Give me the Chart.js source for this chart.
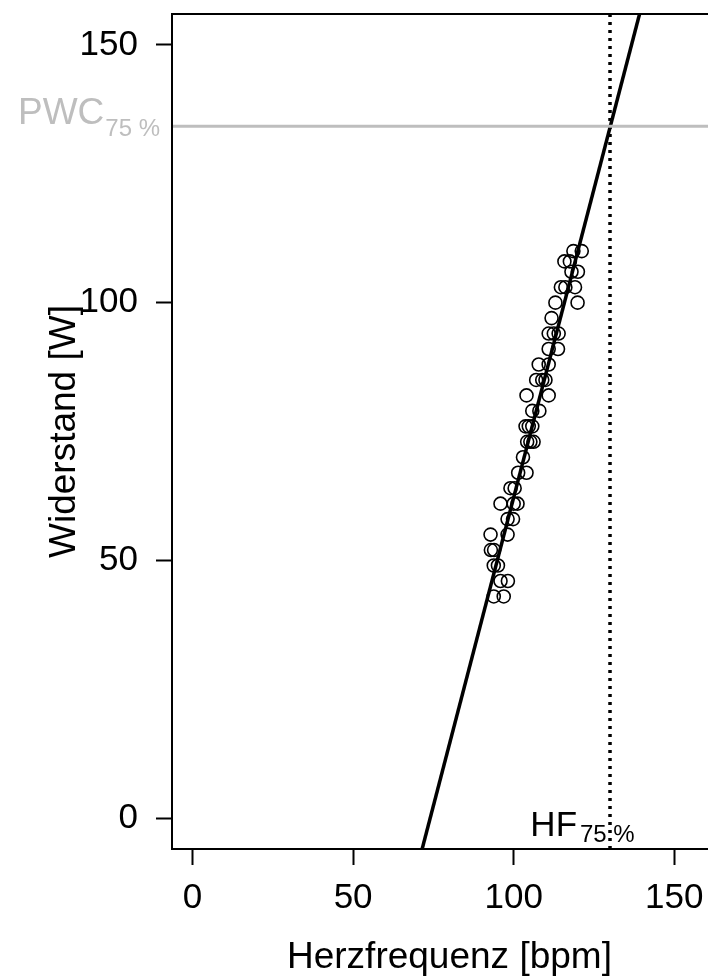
<!DOCTYPE html>
<html>
<head>
<meta charset="utf-8">
<script src="https://cdn.jsdelivr.net/npm/chart.js@4/dist/chart.umd.min.js"></script>
<style>
  html, body { margin: 0; padding: 0; background: #fff; overflow: hidden; }
  #wrap { width: 735px; height: 978px; }
</style>
</head>
<body>
<div id="wrap"><canvas id="c" width="735" height="978"></canvas></div>
<script>
const heartRate = [
  118.6, 121.2, 115.8, 117.5, 118.0, 120.0, 114.7, 116.1, 119.1, 113.0, 119.9,
  111.8, 110.9, 112.5, 114.0, 110.9, 113.8, 107.8, 110.9, 107.0, 108.9, 109.9,
  104.0, 110.9, 105.8, 108.0, 103.7, 104.7, 105.8, 104.2, 105.2, 106.2, 102.9,
  101.4, 104.0, 99.0, 100.3, 95.9, 100.0, 101.2, 98.1, 99.8, 92.8, 98.1,
  92.9, 93.9, 93.8, 95.1, 95.9, 98.2, 93.8, 96.9
];
const load = [
  110, 110, 108, 108, 106, 106, 103, 103, 103, 100, 100,
  97, 94, 94, 94, 91, 91, 88, 88, 85, 85, 85,
  82, 82, 79, 79, 76, 76, 76, 73, 73, 73, 70,
  67, 67, 64, 64, 61, 61, 61, 58, 58, 55, 55,
  52, 52, 49, 49, 46, 46, 43, 43
];
// Regression line end points (where it leaves the plot box)
const fitX = [71.5, 139.2];
const fitY = [-6, 156];
// Reference values
const pwc75 = 134.2;   // W
const hf75 = 130;      // bpm
// Axes
const xTicks = [0, 50, 100, 150];
const yTicks = [0, 50, 100, 150];
const xRange = [-6.4, 166.4];
const yRange = [-6, 156];
const xTitle = 'Herzfrequenz [bpm]';
const yTitle = 'Widerstand [W]';

const FONT = "'Liberation Sans', Arial, sans-serif";

const points = heartRate.map((x, i) => ({ x: x, y: load[i] }));
const fitLine = fitX.map((x, i) => ({ x: x, y: fitY[i] }));
const pwcLine = [{ x: xRange[0], y: pwc75 }, { x: xRange[1], y: pwc75 }];
const hfLine = [{ x: hf75, y: yRange[0] }, { x: hf75, y: yRange[1] }];

const boxPlugin = {
  id: 'box',
  afterDraw(chart) {
    const { ctx, chartArea: a, scales: { x: xs, y: ys } } = chart;
    ctx.save();
    ctx.strokeStyle = '#000';
    ctx.lineWidth = 2;
    ctx.strokeRect(a.left, a.top, a.right - a.left, a.bottom - a.top);

    // PWC label (left of the plot, grey)
    const py = ys.getPixelForValue(pwc75);
    ctx.fillStyle = '#bebebe';
    ctx.textAlign = 'right';
    ctx.textBaseline = 'alphabetic';
    const right = a.left - 12;
    ctx.font = '24px ' + FONT;
    const sub = '75 %';
    const wSub = ctx.measureText(sub).width;
    ctx.fillText(sub, right, py + 10);
    ctx.font = '37px ' + FONT;
    ctx.fillText('PWC', right - wSub - 1, py - 2);

    // HF label (near x axis)
    const px = xs.getPixelForValue(hf75);
    const p0 = ys.getPixelForValue(0);
    ctx.fillStyle = '#000';
    ctx.textAlign = 'left';
    ctx.font = '35px ' + FONT;
    const hfW = ctx.measureText('HF').width;
    ctx.fillText('HF', px - 31 - hfW - 2, p0 + 18);
    ctx.font = '24px ' + FONT;
    ctx.fillText(sub, px - 30, p0 + 24);
    ctx.restore();
  }
};

function noPad(s) { s.paddingTop = 0; s.paddingBottom = 0; s.paddingLeft = 0; s.paddingRight = 0; }

new Chart(document.getElementById('c'), {
  type: 'scatter',
  data: {
    datasets: [
      {
        data: pwcLine, showLine: true, borderColor: '#bebebe', borderWidth: 3,
        pointRadius: 0
      },
      {
        data: points, showLine: false, pointStyle: 'circle', pointRadius: 6.5,
        pointBorderWidth: 1.6, borderColor: '#000', pointBorderColor: '#000',
        backgroundColor: 'rgba(0,0,0,0)', pointBackgroundColor: 'rgba(0,0,0,0)'
      },
      {
        data: fitLine, showLine: true, borderColor: '#000', borderWidth: 3.5,
        pointRadius: 0
      },
      {
        data: hfLine, showLine: true, borderColor: '#000', borderWidth: 3.5,
        borderDash: [3, 5], pointRadius: 0
      }
    ]
  },
  options: {
    responsive: false,
    animation: false,
    events: [],
    layout: { padding: { top: 14, right: 4, left: 0, bottom: 0 } },
    plugins: { legend: { display: false }, tooltip: { enabled: false } },
    scales: {
      x: {
        type: 'linear', min: xRange[0], max: xRange[1],
        afterBuildTicks: s => { s.ticks = xTicks.map(v => ({ value: v })); },
        afterFit: s => { s.height = 129; noPad(s); },
        grid: { display: true, drawOnChartArea: false, drawTicks: true, tickLength: 16, tickWidth: 2, tickColor: '#000' },
        border: { display: false },
        ticks: { font: { size: 35, family: FONT }, color: '#000', padding: 12, maxRotation: 0, autoSkip: false },
        title: { display: true, text: xTitle, color: '#000', font: { size: 37, family: FONT, lineHeight: 1.1 }, padding: { top: 0, bottom: 0 } }
      },
      y: {
        type: 'linear', min: yRange[0], max: yRange[1],
        afterBuildTicks: s => { s.ticks = yTicks.map(v => ({ value: v })); },
        afterFit: s => { s.width = 172; noPad(s); },
        grid: { display: true, drawOnChartArea: false, drawTicks: true, tickLength: 16, tickWidth: 2, tickColor: '#000' },
        border: { display: false },
        ticks: { font: { size: 35, family: FONT }, color: '#000', padding: 18, autoSkip: false },
        title: { display: true, text: yTitle, color: '#000', font: { size: 37, family: FONT, lineHeight: 1.1 }, padding: { top: 44, bottom: 0 } }
      }
    }
  },
  plugins: [boxPlugin]
});
</script>
</body>
</html>
